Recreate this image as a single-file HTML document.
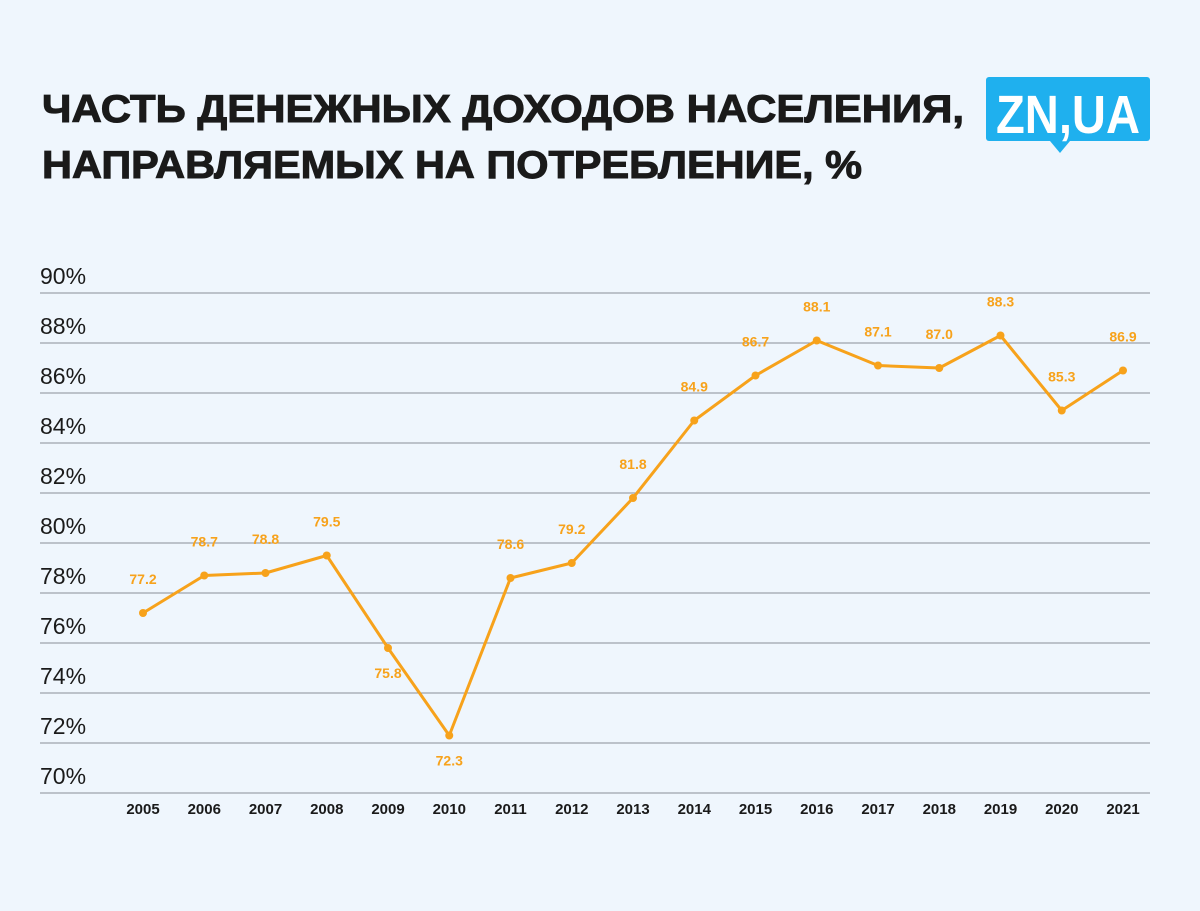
<!DOCTYPE html>
<html><head><meta charset="utf-8"><style>
body{margin:0;background:#eff6fd;}
svg{display:block;font-family:"Liberation Sans",sans-serif;}
</style></head><body>
<svg width="1200" height="911">
<rect width="1200" height="911" fill="#eff6fd"/>
<text font-size="39" font-weight="bold" fill="#1a1a1a" stroke="#1a1a1a" stroke-width="1"><tspan x="42" y="122" textLength="922" lengthAdjust="spacingAndGlyphs">ЧАСТЬ ДЕНЕЖНЫХ ДОХОДОВ НАСЕЛЕНИЯ,</tspan><tspan x="42" y="178" textLength="820" lengthAdjust="spacingAndGlyphs">НАПРАВЛЯЕМЫХ НА ПОТРЕБЛЕНИЕ, %</tspan></text>
<g>
<rect x="986" y="77" width="164" height="64" rx="3" fill="#1fb0ee"/>
<polygon points="1050,141 1070,141 1060,153" fill="#1fb0ee"/>
<text x="996" y="133" font-size="54" font-weight="bold" fill="#fff" textLength="144" lengthAdjust="spacingAndGlyphs">ZN,UA</text>
</g>
<g id="grid"></g><g id="plot"></g>
</svg>
<script>
const years=["2005","2006","2007","2008","2009","2010","2011","2012","2013","2014","2015","2016","2017","2018","2019","2020","2021"];
const values=[77.2,78.7,78.8,79.5,75.8,72.3,78.6,79.2,81.8,84.9,86.7,88.1,87.1,87.0,88.3,85.3,86.9];
const yTicks=[70,72,74,76,78,80,82,84,86,88,90];
const below=["2009","2010"];
const NS="http://www.w3.org/2000/svg";
const y=v=>793-(v-70)*25;
const x=i=>143+i*61.25;
function mk(t,a,p){const e=document.createElementNS(NS,t);for(const k in a)e.setAttribute(k,a[k]);p.appendChild(e);return e;}
const g=document.getElementById('grid'),p=document.getElementById('plot');
yTicks.forEach(t=>{
 const l=mk('line',{x1:40,x2:1150,y1:y(t),y2:y(t),stroke:'#8a8f96','stroke-width':1},g);
 
 
 const tx=mk('text',{x:40,y:y(t)-9,'font-size':23,fill:'#1a1a1a'},g);tx.textContent=t+'%';
 
 
});
years.forEach((yr,i)=>{
 const tx=mk('text',{x:x(i),y:814,'font-size':15,'font-weight':'bold',fill:'#1a1a1a','text-anchor':'middle'},g);tx.textContent=yr;
 
 
});
const line=mk('polyline',{points:values.map((v,i)=>x(i)+','+y(v)).join(' '),fill:'none',stroke:'#f7a21b','stroke-width':3,'stroke-linejoin':'round'},p);


values.forEach((v,i)=>{
 const c=mk('circle',{cx:x(i),cy:y(v),r:4,fill:'#f7a21b'},p);
 
 
 const b=below.includes(years[i]);
 const t=mk('text',{x:x(i),y:b?y(v)+30:y(v)-29,'font-size':14,'font-weight':'bold',fill:'#f7a21b','text-anchor':'middle'},p);
 t.textContent=v.toFixed(1);
 
 
});
</script>
</body></html>
